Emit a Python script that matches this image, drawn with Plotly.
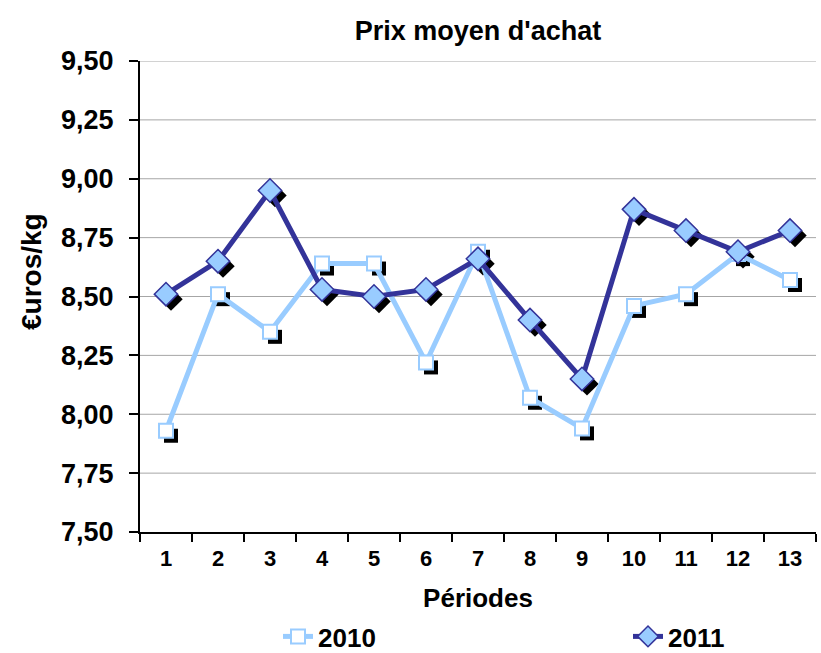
import plotly.graph_objects as go

# Average purchase price per period, €/kg
periodes = [str(i) for i in range(1, 14)]
prix_2010 = [7.93, 8.51, 8.35, 8.64, 8.64, 8.22, 8.69, 8.07, 7.94, 8.46, 8.51, 8.68, 8.57]
prix_2011 = [8.51, 8.65, 8.95, 8.53, 8.50, 8.53, 8.66, 8.40, 8.15, 8.87, 8.78, 8.69, 8.78]
y_ticks = [7.50, 7.75, 8.00, 8.25, 8.50, 8.75, 9.00, 9.25, 9.50]
y_tick_labels = ["7,50", "7,75", "8,00", "8,25", "8,50", "8,75", "9,00", "9,25", "9,50"]

FONT = "Arial, Liberation Sans, sans-serif"
LIGHT = "#99CCFF"
DARK = "#333399"

W, H = 821, 653
ML, MT, MB = 140, 61, 116
plot_w = W - ML
plot_h = H - MT - MB
SH = 5  # drop-shadow offset in px
dx = SH / plot_w
dy = SH / plot_h

fig = go.Figure()

# drop shadows under the markers (own subplot shifted right/down)
for vals, sym, size in [(prix_2010, "square", 14), (prix_2011, "diamond", 18)]:
    fig.add_trace(go.Scatter(
        x=periodes, y=vals, mode="markers", xaxis="x", yaxis="y",
        marker=dict(symbol=sym, size=size, color="black", line=dict(width=0)),
        showlegend=False, hoverinfo="skip", cliponaxis=False,
    ))

fig.add_trace(go.Scatter(
    x=periodes, y=prix_2010, name="2010", mode="lines+markers",
    xaxis="x2", yaxis="y2", cliponaxis=False, legend="legend",
    line=dict(color=LIGHT, width=5),
    marker=dict(symbol="square", size=14, color="white", line=dict(color=LIGHT, width=2)),
))
fig.add_trace(go.Scatter(
    x=periodes, y=prix_2011, name="2011", mode="lines+markers",
    xaxis="x2", yaxis="y2", cliponaxis=False, legend="legend2",
    line=dict(color=DARK, width=5),
    marker=dict(symbol="diamond", size=18, color=LIGHT, line=dict(color=DARK, width=1.5)),
))

# horizontal gridlines, drawn beneath every subplot
shapes = []
for v in y_ticks[1:]:
    shapes.append(dict(type="line", xref="paper", yref="y2", x0=0, x1=1 - dx,
                       y0=v, y1=v, layer="below", line=dict(color="#A6A6A6", width=1)))

cat_range = [-0.5, len(periodes) - 0.5]
y_range = [y_ticks[0], y_ticks[-1]]

legend_style = dict(
    orientation="h", xref="container", yref="container",
    xanchor="left", y=1 - 613 / H, yanchor="top",
    font=dict(size=26, family=FONT, weight="bold"),
    bgcolor="rgba(0,0,0,0)",
)

fig.update_layout(
    width=W, height=H,
    margin=dict(l=ML, r=0, t=MT, b=MB, autoexpand=False),
    paper_bgcolor="white", plot_bgcolor="rgba(0,0,0,0)",
    font=dict(family=FONT, color="black"),
    shapes=shapes,
    title=dict(text="<b>Prix moyen d'achat</b>", x=(0.5 * (1 - dx)) * plot_w / W + ML / W,
               xanchor="center", y=1 - 31 / H, yanchor="middle",
               font=dict(size=27, family=FONT)),
    annotations=[dict(
        text="<b>€uros/kg</b>", textangle=-90, xref="paper", yref="paper",
        x=-(ML - 31) / plot_w, xanchor="center", y=1 - (272 - MT) / plot_h, yanchor="middle",
        showarrow=False, font=dict(size=28, family=FONT),
    )],
    xaxis=dict(domain=[dx, 1], range=cat_range, type="category", visible=False),
    yaxis=dict(domain=[0, 1 - dy], range=y_range, visible=False),
    xaxis2=dict(
        domain=[0, 1 - dx], range=cat_range, type="category", anchor="y2",
        showline=True, linecolor="black", linewidth=2,
        ticks="outside", tickson="boundaries", ticklen=8, tickwidth=2, tickcolor="black",
        showgrid=False, ticklabelstandoff=6,
        tickfont=dict(size=22, family=FONT, weight="bold"),
        title=dict(text="<b>Périodes</b>", font=dict(size=26, family=FONT), standoff=28),
    ),
    yaxis2=dict(
        domain=[dy, 1], range=y_range, anchor="x2",
        tickvals=y_ticks, ticktext=y_tick_labels,
        showline=True, linecolor="black", linewidth=2,
        ticks="outside", ticklen=9, tickwidth=2, tickcolor="black",
        showgrid=False, zeroline=False, ticklabelstandoff=10,
        tickfont=dict(size=27, family=FONT, weight="bold"),
    ),
    legend=dict(legend_style, x=278 / W),
    legend2=dict(legend_style, x=628 / W),
)

fig.write_html("out.html")
